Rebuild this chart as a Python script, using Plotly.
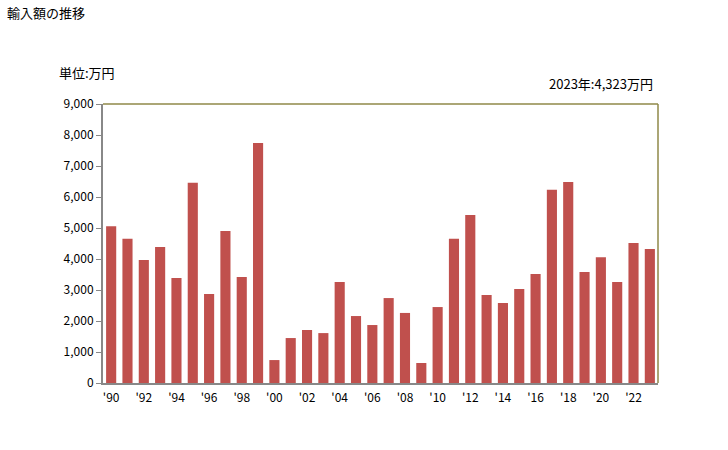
import plotly.graph_objects as go

years = list(range(1990, 2024))
values = [5060, 4650, 3970, 4390, 3390, 6460, 2870, 4900, 3420, 7740,
          740, 1450, 1710, 1610, 3260, 2160, 1870, 2740, 2260, 645,
          2450, 4650, 5420, 2840, 2580, 3030, 3520, 6230, 6480, 3580,
          4060, 3260, 4520, 4323]
tick_years = list(range(1990, 2024, 2))
tick_labels = ["'" + str(y)[2:] for y in tick_years]
y_ticks = list(range(0, 9001, 1000))
y_labels = [f"{v:,}" for v in y_ticks]

FONT = "Noto Sans CJK JP"
PW, PH = 555, 279

fig = go.Figure(go.Bar(x=years, y=values, marker_color="#C0504D", marker_line_width=0))

fig.update_layout(
    width=728, height=450,
    margin=dict(l=103, r=70, t=104, b=67),
    paper_bgcolor="white", plot_bgcolor="white",
    bargap=0.38,
    showlegend=False,
    font=dict(family=FONT, size=11, color="#000000"),
    xaxis=dict(range=[1989.5, 2023.5], tickvals=tick_years, ticktext=tick_labels,
               showgrid=False, showline=True, linecolor="#888888", linewidth=2,
               ticks="outside", ticklen=3, tickcolor="rgba(0,0,0,0)",
               zeroline=False, tickfont=dict(size=12, family=FONT)),
    yaxis=dict(range=[0, 9000], tickvals=y_ticks, ticktext=y_labels,
               showgrid=False, showline=True, linecolor="#888888", linewidth=2,
               ticks="outside", ticklen=5, tickcolor="#888888", zeroline=False,
               tickfont=dict(size=12, family=FONT)),
    shapes=[
        dict(type="line", xref="paper", yref="paper", x0=0, x1=1, y0=1, y1=1,
             line=dict(color="#8F8848", width=1.5)),
        dict(type="line", xref="paper", yref="paper", x0=1, x1=1, y0=0, y1=1,
             line=dict(color="#8F8848", width=1.5)),
    ],
    annotations=[
        dict(text="輸入額の推移", xref="paper", yref="paper", x=(5-103)/PW, y=1 + (104-12)/PH,
             xanchor="left", yanchor="middle", showarrow=False, font=dict(size=13, family=FONT)),
        dict(text="単位:万円", xref="paper", yref="paper", x=(57-103)/PW, y=1 + (104-73)/PH,
             xanchor="left", yanchor="middle", showarrow=False, font=dict(size=13, family=FONT)),
        dict(text="2023年:4,323万円", xref="paper", yref="paper", x=(655-103)/PW, y=1 + (104-83)/PH,
             xanchor="right", yanchor="middle", showarrow=False, font=dict(size=13, family=FONT)),
    ],
)

fig.write_html("out.html", config={"displayModeBar": False},
               post_script="document.body.style.margin='0';")
